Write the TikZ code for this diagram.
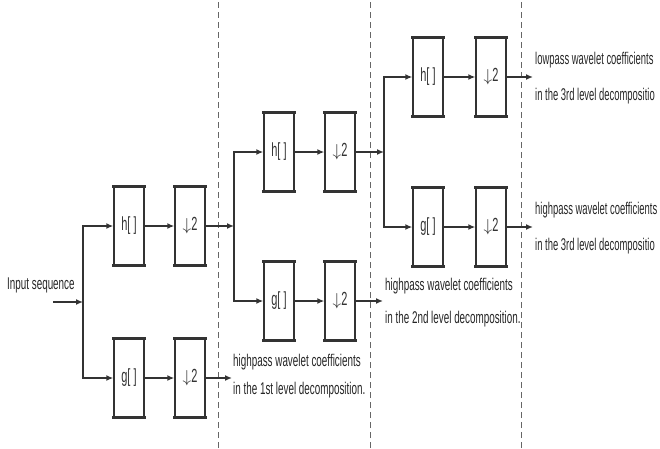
\documentclass[tikz,border=0pt]{standalone}
\usepackage{fontspec}
\newfontfamily\nf[FakeStretch=0.58]{Liberation Sans}
\newfontfamily\nfs[FakeStretch=0.555]{Liberation Sans}
\usetikzlibrary{arrows.meta}
\begin{document}
\begin{tikzpicture}[x=1pt,y=1pt,
  ln/.style={draw=black!80,line width=1.8pt},
  arr/.style={ln,-{Latex[length=7pt,width=6pt]}},
  blk/.style={draw=black!80,line width=1.4pt,minimum width=30pt,minimum height=78pt,inner sep=0pt,font=\nf\fontsize{19}{20}\selectfont,text=black!80},
  lab/.style={font=\nf\fontsize{17}{#1}\selectfont,text=black!85,anchor=west,align=left,inner sep=0pt},
  labs/.style={font=\nfs\fontsize{17}{#1}\selectfont,text=black!85,anchor=west,align=left,inner sep=0pt},
  sep/.style={draw=black!60,line width=1pt,dash pattern=on 6pt off 4pt}]
\useasboundingbox (0,0) rectangle (660,448);
% separators
\draw[sep] (218,0) -- (218,448);
\draw[sep] (370,0) -- (370,448);
\draw[sep] (521,0) -- (521,448);
% level 1
\node[lab=18] (inp) at (7,163) {Input sequence};
\coordinate (in) at (53,146);
\coordinate (s1) at (83,146);
\node[blk] (h1) at (129,222) {h[\,]};
\node[blk] (d1h) at (190,222) {$\downarrow$2};
\node[blk] (g1) at (129,70) {g[\,]};
\node[blk] (d1g) at (190,70) {$\downarrow$2};
\draw[arr] (in) -- (s1);
\draw[arr] (s1) |- (h1);
\draw[arr] (s1) |- (g1);
\draw[arr] (h1) -- (d1h);
\draw[arr] (g1) -- (d1g);
\coordinate (o1) at (232,70);
\draw[arr] (d1g) -- (o1);
\node[lab=28] (t1) at (233,72) {highpass wavelet coefficients\\in the 1st level decomposition.};
% level 2
\coordinate (s2) at (234,222);
\node[blk] (h2) at (279,296) {h[\,]};
\node[blk] (d2h) at (340,296) {$\downarrow$2};
\node[blk] (g2) at (279,147) {g[\,]};
\node[blk] (d2g) at (340,147) {$\downarrow$2};
\draw[arr] (d1h) -- (s2);
\draw[arr] (s2) |- (h2);
\draw[arr] (s2) |- (g2);
\draw[arr] (h2) -- (d2h);
\draw[arr] (g2) -- (d2g);
\coordinate (o2) at (383,147);
\draw[arr] (d2g) -- (o2);
\node[lab=33] (t2) at (385,145) {highpass wavelet coefficients\\in the 2nd level decomposition.};
% level 3
\coordinate (s3) at (384,296);
\node[blk] (h3) at (428,371) {h[\,]};
\node[blk] (d3h) at (491,371) {$\downarrow$2};
\node[blk] (g3) at (428,221) {g[\,]};
\node[blk] (d3g) at (491,221) {$\downarrow$2};
\draw[arr] (d2h) -- (s3);
\draw[arr] (s3) |- (h3);
\draw[arr] (s3) |- (g3);
\draw[arr] (h3) -- (d3h);
\draw[arr] (g3) -- (d3g);
\coordinate (o3a) at (533,371);
\coordinate (o3b) at (533,221);
\draw[arr] (d3h) -- (o3a);
\draw[arr] (d3g) -- (o3b);
\node[labs=36] (t3a) at (535,370) {lowpass wavelet coefficients\\in the 3rd level decompositio};
\node[labs=36] (t3b) at (535,220) {highpass wavelet coefficients\\in the 3rd level decompositio};
% thick top and bottom edges of the blocks
\foreach \b in {h1,d1h,g1,d1g,h2,d2h,g2,d2g,h3,d3h,g3,d3g}
  \draw[black!80,line width=3pt] ([xshift=-1pt]\b.north west) -- ([xshift=1pt]\b.north east)
    ([xshift=-1pt]\b.south west) -- ([xshift=1pt]\b.south east);
\end{tikzpicture}
\end{document}
